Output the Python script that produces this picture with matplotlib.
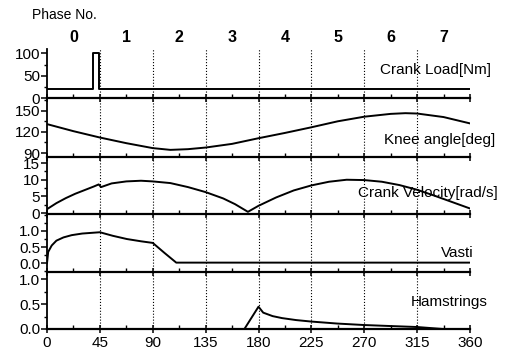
import matplotlib
matplotlib.use("Agg")
import matplotlib.pyplot as plt
from matplotlib.ticker import MultipleLocator, AutoMinorLocator

plt.rcParams['font.family'] = ['Liberation Sans', 'DejaVu Sans']

# ---- data ----
phase_labels = ['0', '1', '2', '3', '4', '5', '6', '7']
x_ticks = [0, 45, 90, 135, 180, 225, 270, 315, 360]

load_x = [0, 39, 39, 44, 44, 360]
load_y = [20, 20, 100, 100, 20, 20]

knee_x = [0, 22.5, 45, 67.5, 90, 105, 120, 135, 157.5, 180, 202.5, 225, 247.5, 270, 292.5, 305, 315, 337.5, 360]
knee_y = [131, 121, 112, 104, 97, 94.5, 95.5, 97.8, 103, 111, 118.5, 126.5, 135, 141.5, 145.5, 146.5, 146, 141, 132]

vel_x = [0, 8, 16, 24, 32, 40, 44, 46, 55, 67.5, 80, 90, 105, 120, 135, 150, 160, 171, 180, 195, 210, 225, 240, 255, 270, 285, 300, 315, 330, 345, 360]
vel_y = [1.2, 3.0, 4.5, 5.8, 6.9, 8.0, 8.6, 7.8, 8.9, 9.5, 9.7, 9.5, 9.0, 7.8, 6.3, 4.4, 2.7, 0.4, 2.2, 4.7, 6.8, 8.3, 9.4, 10.0, 9.9, 9.4, 8.4, 7.0, 5.2, 3.3, 1.4]

vasti_x = [0, 1, 4, 8, 14, 21, 30, 45, 56, 68, 80, 90, 100, 110, 360]
vasti_y = [0, 0.35, 0.55, 0.7, 0.8, 0.87, 0.92, 0.96, 0.85, 0.75, 0.68, 0.63, 0.32, 0.02, 0.02]

ham_x = [0, 168, 180, 184, 192, 200, 212, 225, 247, 270, 292, 315, 337]
ham_y = [0, 0, 0.45, 0.33, 0.26, 0.22, 0.18, 0.15, 0.11, 0.08, 0.06, 0.04, 0.0]

panel_labels = ['Crank Load[Nm]', 'Knee angle[deg]', 'Crank Velocity[rad/s]', 'Vasti', 'Hamstrings']

W, H = 507, 355
fig = plt.figure(figsize=(W / 100, H / 100), dpi=100)

left_px, right_px = 47, 470
bounds = [(49, 98), (98, 157), (157, 213.5), (213.5, 272), (272, 329)]
ylims = [(0, 110), (84.4, 168), (-0.1, 16.8), (-0.27, 1.54), (0, 1.15)]
yticks = [[0, 50, 100], [90, 120, 150], [0, 5, 10, 15], [0.0, 0.5, 1.0], [0.0, 0.5, 1.0]]
yfmt = [None, None, None, '{:.1f}', '{:.1f}']
series = [(load_x, load_y), (knee_x, knee_y), (vel_x, vel_y), (vasti_x, vasti_y), (ham_x, ham_y)]
label_pos = [(491, 70), (495, 140), (498, 193), (474, 253), (488, 302)]

axes = []
for i in range(5):
    t, b = bounds[i]
    ax = fig.add_axes([left_px / W, 1 - b / H, (right_px - left_px) / W, (b - t) / H])
    axes.append(ax)
    x, y = series[i]
    ax.plot(x, y, color='black', lw=1.4, zorder=3)
    for v in x_ticks[1:-1]:
        ax.axvline(v, color='black', ls=':', lw=0.8, zorder=1)
    ax.set_xlim(0, 360)
    ax.set_ylim(*ylims[i])
    ax.set_yticks(yticks[i])
    if yfmt[i]:
        ax.set_yticklabels([yfmt[i].format(v) for v in yticks[i]])
    ax.yaxis.set_minor_locator(AutoMinorLocator(2))
    ax.set_xticks(x_ticks)
    ax.xaxis.set_minor_locator(MultipleLocator(22.5))
    for s in ['top', 'right']:
        ax.spines[s].set_visible(False)
    ax.spines['left'].set_linewidth(1.3)
    ax.spines['bottom'].set_linewidth(1.6)
    ax.tick_params(axis='y', direction='out', length=4, width=1.1, labelsize=11, pad=1)
    ax.tick_params(axis='y', which='minor', direction='out', length=2.5, width=1)
    ax.tick_params(axis='x', direction='inout', length=6, width=1.1, labelsize=11, pad=2)
    ax.tick_params(axis='x', which='minor', direction='in', length=3, width=1)
    if i < 4:
        ax.tick_params(axis='x', labelbottom=False)
    ax.patch.set_alpha(0)
    lx, ly = label_pos[i]
    fig.text(lx / W, 1 - ly / H, panel_labels[i], ha='right', va='center', fontsize=11)

# phase labels
for k, p in enumerate(phase_labels):
    cx = left_px + (k + 0.5) * (right_px - left_px) / 8
    fig.text(cx / W, 1 - 38 / H, p, ha='center', va='center', fontsize=11.5, fontweight='bold')
fig.text(32 / W, 1 - 15 / H, 'Phase No.', ha='left', va='center', fontsize=10)

fig.savefig('out.png', dpi=100)
